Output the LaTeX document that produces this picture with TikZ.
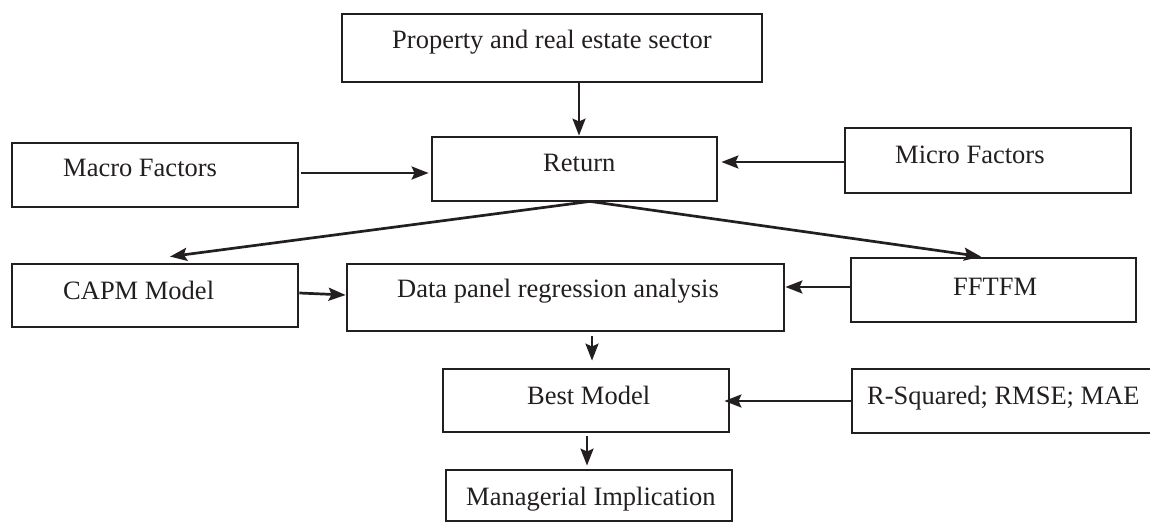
\documentclass[tikz,border=0pt]{standalone}
\usepackage{fontspec}
\setmainfont{Liberation Serif}
\usetikzlibrary{arrows.meta,calc}
\definecolor{ink}{RGB}{35,31,32}
\begin{document}
\begin{tikzpicture}[x=1pt,y=-1pt,
  box/.style={draw=ink,line width=2.8pt,inner sep=0pt,rectangle},
  txt/.style={anchor=base west,inner sep=0pt,text=ink,font=\fontsize{26.5}{30}\selectfont},
  arr/.style={draw=ink,line width=2.7pt,-{Stealth[length=17pt,width=13pt,inset=3pt]}}]
\fill[white] (0,0) rectangle (1150,526);
\useasboundingbox (0,0) rectangle (1150,526);
% boxes
\node[box,minimum width=420pt,minimum height=68pt] (prop) at (552,48) {};
\node[box,minimum width=285pt,minimum height=64pt] (ret) at (574.5,169) {};
\node[box,minimum width=286pt,minimum height=64pt] (macro) at (155,175) {};
\node[box,minimum width=286pt,minimum height=65pt] (micro) at (988,160.5) {};
\node[box,minimum width=286pt,minimum height=63pt] (capm) at (155,295.5) {};
\node[box,minimum width=437pt,minimum height=67pt] (data) at (565.5,297.5) {};
\node[box,minimum width=285pt,minimum height=64pt] (fftfm) at (993.5,290) {};
\node[box,minimum width=286pt,minimum height=63pt] (best) at (586,400.5) {};
\node[box,minimum width=308pt,minimum height=64pt] (rsq) at (1006,401) {};
\node[box,minimum width=286pt,minimum height=51pt] (mgr) at (589,495.5) {};
% texts
\node[txt] (tprop) at (392,49) {Property and real estate sector};
\node[txt] (tret) at (543,172) {Return};
\node[txt] (tmacro) at (63,177) {Macro Factors};
\node[txt] (tmicro) at (895,164) {Micro Factors};
\node[txt] (tcapm) at (63,300) {CAPM Model};
\node[txt] (tdata) at (397,298) {Data panel regression analysis};
\node[txt] (tfftfm) at (953,295) {FFTFM};
\node[txt] (tbest) at (527,404) {Best Model};
\node[txt] (trsq) at (867,404) {R-Squared; RMSE; MAE};
\node[txt] (tmgr) at (466,505) {Managerial Implication};
% connectors
\draw[arr] ($(prop.south)+(27,0)$) -- ($(ret.north)+(4.5,0)$);
\draw[arr] ($(macro.east)+(2,-2)$) -- ($(ret.west)+(-2,4)$);
\draw[arr] ($(micro.west)+(0,1.5)$) -- ($(ret.east)+(3,-7)$);
\coordinate (apex) at ($(ret.south)+(15.5,-1)$);
\draw[arr] (apex) -- ($(capm.north)+(15,-6)$);
\draw[arr] (apex) -- ($(fftfm.north)+(-12.5,0)$);
\draw[arr] ($(capm.east)+(0,-2.5)$) -- ($(data.west)+(0,-2.5)$);
\draw[arr] ($(fftfm.west)+(0,-3)$) -- ($(data.east)+(0,-10.5)$);
\draw[arr] ($(data.south)+(26.5,4)$) -- ($(best.north)+(6,-7)$);
\draw[arr] (rsq.west) -- ($(best.east)+(-6,0.5)$);
\draw[arr] ($(best.south)+(1,3)$) -- ($(mgr.north)+(-2,-3)$);
\end{tikzpicture}
\end{document}
